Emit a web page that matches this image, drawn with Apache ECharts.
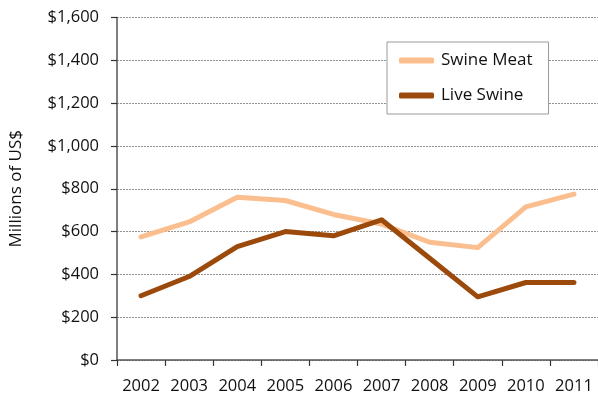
<!DOCTYPE html>
<html>
<head>
<meta charset="utf-8">
<style>
  html, body { margin: 0; padding: 0; background: #fff; }
  #chart { width: 598px; height: 398px; }
</style>
<script src="https://cdn.jsdelivr.net/npm/echarts@6/dist/echarts.min.js"></script>
</head>
<body>
<div id="chart"></div>
<script>
// Swine trade values, millions of US dollars
const years = ['2002', '2003', '2004', '2005', '2006', '2007', '2008', '2009', '2010', '2011'];
const swineMeat = [575, 645, 760, 745, 680, 635, 550, 525, 715, 775];
const liveSwine = [300, 390, 530, 600, 580, 655, 475, 295, 362, 362];

const FONT = '"Open Sans", "Noto Sans", sans-serif';
const chart = echarts.init(document.getElementById('chart'), null, { renderer: 'canvas' });

chart.setOption({
  animation: false,
  backgroundColor: '#ffffff',
  grid: { left: 117, top: 17.5, width: 484, bottom: 38, containLabel: false },
  legend: {
    orient: 'vertical',
    left: 387,
    top: 42,
    padding: [10, 16, 10, 12],
    itemGap: 18,
    itemWidth: 35,
    itemHeight: 6,
    icon: 'roundRect',
    borderColor: '#9a9a9a',
    borderWidth: 1,
    backgroundColor: '#fff',
    textStyle: { fontFamily: FONT, fontSize: 17, color: '#111', padding: [0, 0, 0, 2] },
    data: ['Swine Meat', 'Live Swine']
  },
  xAxis: {
    type: 'category',
    data: years,
    boundaryGap: true,
    axisLine: { lineStyle: { color: '#555', width: 1.5 } },
    axisTick: { show: true, length: 6, interval: 0, lineStyle: { color: '#333', width: 1.2 } },
    axisLabel: { fontFamily: FONT, fontSize: 16.5, color: '#111', margin: 18, interval: 0, hideOverlap: false }
  },
  yAxis: {
    type: 'value',
    min: 0,
    max: 1600,
    interval: 200,
    name: 'Millions of US$',
    nameLocation: 'middle',
    nameGap: 92,
    nameRotate: 90,
    nameTextStyle: { fontFamily: FONT, fontSize: 17, color: '#111' },
    axisLine: { show: true, lineStyle: { color: '#555', width: 1.5 } },
    axisTick: { show: true, length: 6, lineStyle: { color: '#333', width: 1.2 } },
    axisLabel: {
      fontFamily: FONT, fontSize: 16.5, color: '#111', margin: 18,
      formatter: v => '$' + v.toLocaleString('en-US')
    },
    splitLine: { show: true, lineStyle: { color: '#777', type: [2, 1], width: 0.8 } }
  },
  series: [
    {
      name: 'Swine Meat',
      type: 'line',
      data: swineMeat,
      symbol: 'none',
      color: '#fbbf8f',
      lineStyle: { width: 5, color: '#fbbf8f', cap: 'round', join: 'round' },
      z: 2
    },
    {
      name: 'Live Swine',
      type: 'line',
      data: liveSwine,
      symbol: 'none',
      color: '#9b4a0c',
      lineStyle: { width: 5, color: '#9b4a0c', cap: 'round', join: 'round' },
      z: 3
    }
  ]
});
</script>
</body>
</html>
